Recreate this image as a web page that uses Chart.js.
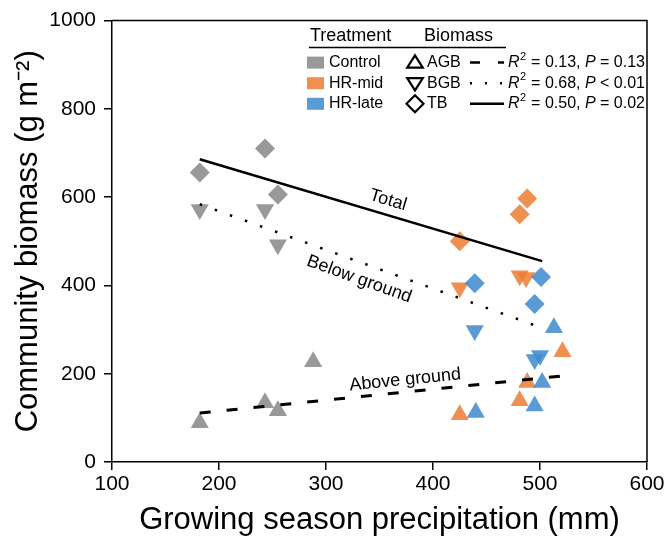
<!DOCTYPE html>
<html>
<head>
<meta charset="utf-8">
<script src="https://cdn.jsdelivr.net/npm/chart.js@4.4.1/dist/chart.umd.min.js"></script>
<style>
  html, body { margin: 0; padding: 0; background: #fff; }
  #wrap { width: 667px; height: 537px; }
</style>
</head>
<body>
<div id="wrap"><canvas id="c"></canvas></div>
<script>
Chart.defaults.font.family = '"Liberation Sans", Arial, sans-serif';
Chart.defaults.color = '#000';

// [precipitation (mm), biomass (g m-2)]
const controlAGB = [[182, 89], [243, 134], [255, 116], [288, 227]];
const controlBGB = [[182, 572], [243, 572], [255, 492]];
const controlTB  = [[182, 656], [243, 710], [255, 606]];

const midAGB = [[425, 107], [481, 139], [488, 180], [521, 250]];
const midBGB = [[425, 395], [481, 422], [487, 418]];
const midTB  = [[425, 500], [481, 561], [488, 597]];

const lateAGB = [[440, 112], [495, 127], [502, 180], [513, 304]];
const lateBGB = [[439, 298], [495, 232], [500, 241]];
const lateTB  = [[439, 405], [495, 358], [501, 419]];

// regression lines (end points)
const fitAGB = [[182, 111], [521, 195]];
const fitBGB = [[182, 584], [505, 301]];
const fitTB  = [[182, 686], [502, 455]];

const treatments = ['Control', 'HR-mid', 'HR-late'];
const biomassTypes = ['AGB', 'BGB', 'TB'];
const fitR2 = ['0.13', '0.68', '0.50'];
const fitP = ['= 0.13', '< 0.01', '= 0.02'];

// line labels placed in data space
const lineLabels = [
  { text: 'Total', x: 358, y: 593, fit: fitTB },
  { text: 'Below ground', x: 331, y: 414, fit: fitBGB },
  { text: 'Above ground', x: 374, y: 186, fit: fitAGB }
];

const GRAY = 'rgba(128,128,128,0.8)';
const ORANGE = 'rgba(237,125,49,0.85)';
const BLUE = 'rgba(62,138,206,0.85)';
const colors = [GRAY, ORANGE, BLUE];

const pts = arr => arr.map(p => ({ x: p[0], y: p[1] }));

function scatter(arr, color, kind) {
  const style = {
    AGB: { pointStyle: 'triangle', rotation: 0, r: 10.5 },
    BGB: { pointStyle: 'triangle', rotation: 180, r: 10.5 },
    TB:  { pointStyle: 'rectRot', rotation: 0, r: 10 }
  }[kind];
  return {
    type: 'scatter',
    data: pts(arr),
    pointStyle: style.pointStyle,
    rotation: style.rotation,
    pointRadius: style.r,
    pointHoverRadius: style.r,
    backgroundColor: color,
    borderWidth: 0,
    borderColor: color
  };
}

function fitLine(arr, dash, width) {
  return {
    type: 'line',
    data: pts(arr),
    borderColor: '#000',
    borderWidth: width,
    borderDash: dash,
    borderCapStyle: 'butt',
    pointRadius: 0,
    fill: false,
    tension: 0
  };
}

const fontFam = '"Liberation Sans", Arial, sans-serif';

function drawSym(ctx, kind, x, y) {
  ctx.beginPath();
  if (kind === 'TB') {
    const r = 8.5;
    ctx.moveTo(x, y - r); ctx.lineTo(x + r, y); ctx.lineTo(x, y + r); ctx.lineTo(x - r, y);
  } else {
    const r = 9, s = kind === 'AGB' ? 1 : -1;
    const h = r * 0.75;
    ctx.moveTo(x, y - s * (r * 0.75 + 0.5) );
    ctx.lineTo(x + r * 0.866, y + s * h * 0.75);
    ctx.lineTo(x - r * 0.866, y + s * h * 0.75);
  }
  ctx.closePath();
  ctx.lineWidth = 2.2;
  ctx.strokeStyle = '#000';
  ctx.lineJoin = 'miter';
  ctx.stroke();
}

const legendPlugin = {
  id: 'customLegend',
  afterDraw(chart) {
    const { ctx, chartArea: a } = chart;
    ctx.save();
    // frame
    ctx.strokeStyle = '#000';
    ctx.lineWidth = 1.5;
    ctx.beginPath();
    ctx.moveTo(a.left, a.top);
    ctx.lineTo(a.right, a.top);
    ctx.lineTo(a.right, a.bottom);
    ctx.stroke();

    const L = a.right - 340;
    ctx.fillStyle = '#000';
    ctx.textBaseline = 'middle';
    ctx.font = '18px ' + fontFam;
    ctx.fillText('Treatment', L + 3, a.top + 15);
    ctx.fillText('Biomass', L + 117, a.top + 15);
    ctx.lineWidth = 1.5;
    ctx.beginPath();
    ctx.moveTo(L + 2, a.top + 27);
    ctx.lineTo(L + 199, a.top + 27);
    ctx.stroke();

    const dashes = [[10, 18], [2, 13], []];
    ctx.font = '16px ' + fontFam;
    for (let i = 0; i < 3; i++) {
      const y = a.top + 42 + i * 20.6;
      ctx.fillStyle = colors[i];
      ctx.fillRect(L, y - 6, 17, 12);
      ctx.fillStyle = '#000';
      ctx.font = '16px ' + fontFam;
      ctx.fillText(treatments[i], L + 22, y);
      drawSym(ctx, biomassTypes[i], L + 108, y);
      ctx.fillText(biomassTypes[i], L + 120, y);
      // line sample
      ctx.save();
      ctx.lineWidth = 2.5;
      ctx.setLineDash(dashes[i]);
      ctx.beginPath();
      ctx.moveTo(L + 163, y);
      ctx.lineTo(L + 197, y);
      ctx.stroke();
      ctx.restore();
      // stats text
      let tx = L + 201;
      ctx.font = 'italic 16px ' + fontFam;
      ctx.fillText('R', tx, y); tx += ctx.measureText('R').width;
      ctx.font = '11px ' + fontFam;
      ctx.fillText('2', tx + 0.5, y - 6); tx += ctx.measureText('2').width + 1;
      ctx.font = '16px ' + fontFam;
      const s1 = ' = ' + fitR2[i] + ', ';
      ctx.fillText(s1, tx, y); tx += ctx.measureText(s1).width;
      ctx.font = 'italic 16px ' + fontFam;
      ctx.fillText('P', tx, y); tx += ctx.measureText('P').width;
      ctx.font = '16px ' + fontFam;
      ctx.fillText(' ' + fitP[i], tx, y);
    }

    // rotated line labels
    const xs = chart.scales.x, ys = chart.scales.y;
    ctx.font = '18px ' + fontFam;
    ctx.textAlign = 'center';
    lineLabels.forEach(lb => {
      const x0 = xs.getPixelForValue(lb.fit[0][0]), y0 = ys.getPixelForValue(lb.fit[0][1]);
      const x1 = xs.getPixelForValue(lb.fit[1][0]), y1 = ys.getPixelForValue(lb.fit[1][1]);
      const ang = Math.atan2(y1 - y0, x1 - x0);
      ctx.save();
      ctx.translate(xs.getPixelForValue(lb.x), ys.getPixelForValue(lb.y));
      ctx.rotate(ang);
      ctx.fillText(lb.text, 0, 0);
      ctx.restore();
    });
    ctx.restore();
  }
};

new Chart(document.getElementById('c'), {
  data: {
    datasets: [
      fitLine(fitTB, [], 2.5),
      fitLine(fitBGB, [2.5, 13.5], 2.5),
      fitLine(fitAGB, [11, 16], 3),
      scatter(lateTB, BLUE, 'TB'),
      scatter(lateBGB, BLUE, 'BGB'),
      scatter(lateAGB, BLUE, 'AGB'),
      scatter(midTB, ORANGE, 'TB'),
      scatter(midBGB, ORANGE, 'BGB'),
      scatter(midAGB, ORANGE, 'AGB'),
      scatter(controlTB, GRAY, 'TB'),
      scatter(controlBGB, GRAY, 'BGB'),
      scatter(controlAGB, GRAY, 'AGB')
    ]
  },
  options: {
    responsive: true,
    maintainAspectRatio: false,
    animation: false,
    layout: { padding: { top: 20, right: 20, left: 0, bottom: 0 } },
    plugins: { legend: { display: false }, tooltip: { enabled: false } },
    scales: {
      x: {
        type: 'linear',
        min: 100,
        max: 600,
        afterFit: s => { s.height = 75; },
        ticks: { stepSize: 100, font: { size: 21 }, padding: 2, color: '#000', callback: v => String(v) },
        grid: { drawOnChartArea: false, drawTicks: true, tickLength: 8, color: '#000', lineWidth: 1.5 },
        border: { display: true, color: '#000', width: 1.5 },
        title: {
          display: true,
          text: 'Growing season precipitation (mm)',
          font: { size: 31, lineHeight: 1 },
          padding: { top: 0, bottom: 1 },
          color: '#000'
        }
      },
      y: {
        type: 'linear',
        min: 0,
        max: 1000,
        afterFit: s => { s.width = 112; },
        ticks: { stepSize: 200, font: { size: 21 }, padding: 8, color: '#000', callback: v => String(v) },
        grid: { drawOnChartArea: false, drawTicks: true, tickLength: 8, color: '#000', lineWidth: 1.5 },
        border: { display: true, color: '#000', width: 1.5 },
        title: {
          display: true,
          text: 'Community biomass (g m\u207B\u00B2)',
          font: { size: 31, lineHeight: 1 },
          padding: { top: 13, bottom: 0 },
          color: '#000'
        }
      }
    }
  },
  plugins: [legendPlugin]
});
</script>
</body>
</html>
